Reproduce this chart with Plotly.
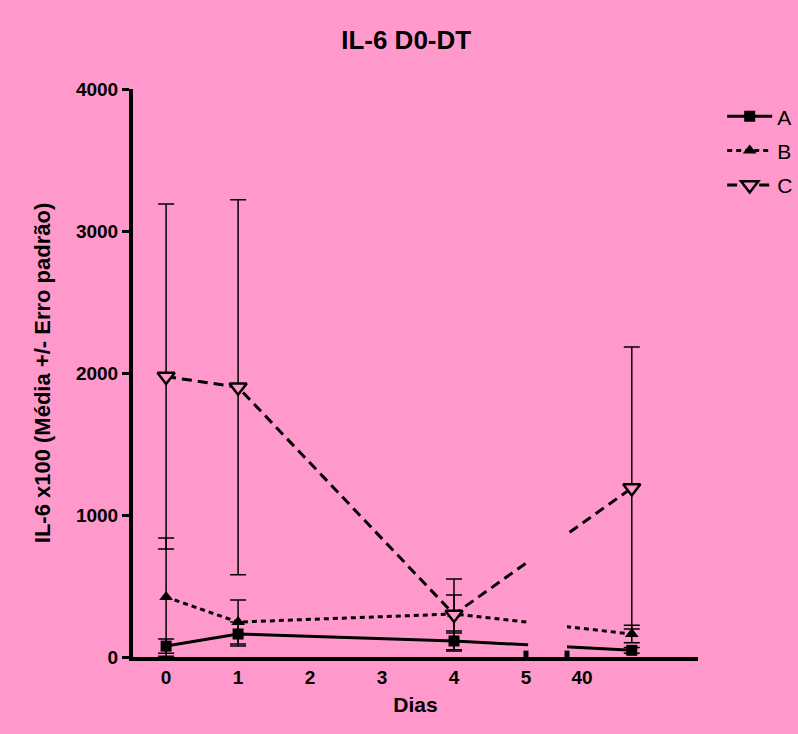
import plotly.graph_objects as go

# ---- data ----
x_pos = [0, 1, 4, 6.47]          # positions on the broken "Dias" axis (last point in the 40+ segment)
a_mean = [77, 162, 113, 47]
a_err = [50, 85, 70, 20]
b_mean = [422, 246, 303, 162]
b_err = [416, 155, 134, 62]
c_mean = [1975, 1900, 300, 1190]
c_err = [1215, 1320, 249, 993]
tick_pos = [0, 1, 2, 3, 4, 5, 5.78]
tick_text = ["0", "1", "2", "3", "4", "5", "40"]
y_ticks = [0, 1000, 2000, 3000, 4000]

PINK = "#FF99CC"
FONT = "Liberation Sans, Arial, sans-serif"

fig = go.Figure()

def add(name, y, err, symbol, size, dash, fill, lw):
    fig.add_trace(go.Scatter(
        x=x_pos, y=y, name=name, legendgroup=name, mode="lines+markers",
        line=dict(color="black", width=3, dash=dash),
        marker=dict(symbol=symbol, size=size, color=fill,
                    line=dict(color="black", width=lw)),
        error_y=dict(type="data", array=err, visible=True, color="black",
                     thickness=1.5, width=8),
        cliponaxis=False,
    ))

add("A", a_mean, a_err, "square", 11, "solid", "black", 0)
add("B", b_mean, b_err, "triangle-up", 12, "5px,4px", "black", 0)
add("C", c_mean, c_err, "triangle-down", 15, "10px,6px", PINK, 2.5)

# axis break (gap between 5 and 40)
fig.add_shape(type="rect", xref="x", yref="y", x0=5.03, x1=5.57, y0=-40, y1=4200,
              fillcolor=PINK, line=dict(width=0), layer="above")
for xb in (5.0, 5.57):
    fig.add_shape(type="line", xref="x", yref="y", x0=xb, x1=xb, y0=-45, y1=45,
                  line=dict(color="black", width=5), layer="above")

fig.update_layout(
    width=798, height=734,
    paper_bgcolor=PINK, plot_bgcolor=PINK,
    margin=dict(l=133, r=100, t=89, b=77, autoexpand=False),
    font=dict(family=FONT, color="black"),
    title=dict(text="<b>IL-6 D0-DT</b>", x=0.509, xref="container", xanchor="center",
               y=0.945, yref="container", yanchor="middle",
               font=dict(size=26, family=FONT)),
    showlegend=True,
    legend=dict(x=0.905, y=0.869, xref="container", yref="container",
                xanchor="left", yanchor="top",
                bgcolor="rgba(0,0,0,0)", font=dict(size=21, family=FONT),
                itemwidth=45, tracegroupgap=4, traceorder="grouped"),
)

fig.update_xaxes(
    range=[-0.46, 7.39], showgrid=False, zeroline=False,
    showline=True, linecolor="black", linewidth=4,
    tickmode="array", tickvals=tick_pos, ticktext=[f"<b>{t}</b>" for t in tick_text],
    ticks="", tickfont=dict(size=19, family=FONT),
    title=dict(text="<b>Dias</b>", font=dict(size=21, family=FONT), standoff=12),
)
fig.update_yaxes(
    range=[0, 4000], showgrid=False, zeroline=False,
    showline=True, linecolor="black", linewidth=4,
    tickmode="array", tickvals=y_ticks, ticktext=[f"<b>{v}</b>" for v in y_ticks],
    ticks="outside", ticklen=7, tickwidth=3, tickcolor="black",
    tickfont=dict(size=19, family=FONT),
    title=dict(text="<b>IL-6 x100 (Média +/- Erro padrão)</b>",
               font=dict(size=22, family=FONT), standoff=20),
)

fig.write_html("out.html")
